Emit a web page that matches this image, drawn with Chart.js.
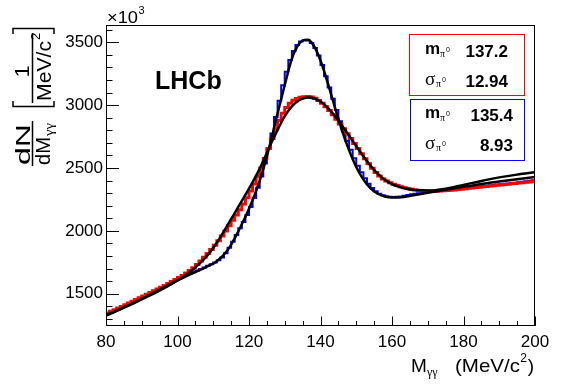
<!DOCTYPE html>
<html lang="en">
<head>
<meta charset="UTF-8" />
<title>pi0 mass peak</title>
<script src="https://cdn.jsdelivr.net/npm/chart.js"></script>
<style>
  body { margin: 0; background: #fff; }
  canvas { display: block; }
</style>
</head>
<body>
<canvas id="massChart" width="567" height="384"></canvas>
<script>
  // histogram bins: 1 MeV wide, first bin starts at 80
  const binStart = 80;
  const binWidth = 1;

  const blueCounts = [
    1347, 1359, 1371, 1384, 1396, 1409, 1422, 1435, 1448, 1462,
    1475, 1488, 1502, 1515, 1529, 1543, 1558, 1572, 1587, 1602,
    1617, 1632, 1646, 1659, 1671, 1684, 1696, 1709, 1722, 1735,
    1749, 1765, 1788, 1822, 1866, 1914, 1966, 2020, 2070, 2125,
    2190, 2262, 2342, 2432, 2535, 2650, 2775, 2905, 3035, 3158,
    3265, 3358, 3430, 3478, 3505, 3516, 3514, 3494, 3455, 3395,
    3318, 3230, 3140, 3050, 2960, 2872, 2790, 2715, 2645, 2578,
    2517, 2465, 2418, 2375, 2340, 2314, 2295, 2282, 2274, 2270,
    2269, 2270, 2273, 2278, 2284, 2290, 2295, 2299, 2302, 2305,
    2308, 2311, 2315, 2318, 2321, 2324, 2327, 2331, 2334, 2338,
    2341, 2344, 2347, 2350, 2353, 2356, 2359, 2362, 2365, 2368,
    2371, 2374, 2377, 2380, 2383, 2387, 2390, 2394, 2398, 2403
  ];

  const redCounts = [
    1347, 1360, 1373, 1386, 1399, 1412, 1426, 1439, 1453, 1467,
    1481, 1495, 1509, 1523, 1537, 1552, 1566, 1581, 1597, 1612,
    1628, 1645, 1664, 1684, 1706, 1732, 1760, 1790, 1820, 1852,
    1886, 1921, 1958, 1998, 2040, 2085, 2125, 2168, 2214, 2263,
    2316, 2373, 2434, 2500, 2575, 2655, 2735, 2810, 2878, 2935,
    2980, 3015, 3038, 3053, 3062, 3067, 3069, 3065, 3054, 3037,
    3014, 2987, 2957, 2923, 2887, 2850, 2812, 2773, 2734, 2694,
    2654, 2613, 2573, 2534, 2497, 2464, 2436, 2413, 2396, 2382,
    2370, 2360, 2351, 2343, 2336, 2330, 2325, 2321, 2318, 2316,
    2315, 2315, 2315, 2316, 2318, 2320, 2322, 2325, 2328, 2331,
    2334, 2338, 2341, 2344, 2347, 2350, 2353, 2356, 2359, 2362,
    2365, 2368, 2371, 2374, 2377, 2380, 2383, 2386, 2389, 2393
  ];

  // fitted curves (black)
  const fitMass = [
    80, 84, 88, 92, 96, 100, 104, 108, 111, 114, 117, 120, 123, 126, 128, 130, 132, 134,
    135.5, 136.5, 138, 140, 142, 144, 146, 148, 150, 152, 154, 156, 158, 160, 162, 164, 166,
    170, 175, 180, 185, 190, 195, 200
  ];
  const redFit = [
    1330, 1378, 1428, 1482, 1540, 1605, 1685, 1792, 1905, 2045, 2190, 2335, 2495, 2685, 2803, 2912, 2990, 3038,
    3056, 3060, 3054, 3028, 2980, 2914, 2838, 2757, 2674, 2593, 2518, 2455, 2406, 2372, 2350, 2335, 2326,
    2320, 2335, 2365, 2397, 2425, 2447, 2465
  ];
  const blueFit = [
    1325, 1376, 1430, 1488, 1548, 1606, 1660, 1712, 1758, 1845, 1995, 2175, 2400, 2700, 2935, 3160, 3370, 3488,
    3518, 3520, 3478, 3355, 3178, 2985, 2800, 2640, 2508, 2408, 2338, 2295, 2273, 2265, 2266, 2273, 2283,
    2302, 2326, 2350, 2373, 2393, 2411, 2428
  ];

  const xTicks = [80, 100, 120, 140, 160, 180, 200];
  const yTicks = [1500, 2000, 2500, 3000, 3500];
  const redResults = ['137.2', '12.94'];
  const blueResults = ['135.4', '8.93'];

  const SANS = '"Liberation Sans", Arial, Helvetica, sans-serif';
  const SERIF = '"Liberation Serif", "Times New Roman", serif';

  function histPoints(counts) {
    const pts = counts.map((c, i) => ({ x: binStart + i * binWidth, y: c }));
    pts.push({ x: binStart + counts.length * binWidth, y: counts[counts.length - 1] });
    return pts;
  }
  function curvePoints(ys) {
    return fitMass.map((m, i) => ({ x: m, y: ys[i] }));
  }

  // draw text stretched/squeezed to a given width
  function fitText(ctx, text, x0, width, baseline) {
    const w = ctx.measureText(text).width;
    ctx.save();
    ctx.translate(x0, baseline);
    ctx.scale(width / w, 1);
    ctx.fillText(text, 0, 0);
    ctx.restore();
  }

  function drawResult(ctx, sym, value, top, right) {
    ctx.fillStyle = '#000';
    ctx.textAlign = 'left';
    let sub = 440;
    if (sym === 'm') {
      ctx.font = 'bold 17px ' + SANS;
      ctx.fillText('m', 425, top);
    } else {
      ctx.font = '19px ' + SERIF;
      ctx.fillText('\u03c3', 425, top + 1);
      sub = 436;
    }
    ctx.font = '10px ' + SERIF;
    ctx.fillText('\u03c0', sub, top + 3);
    ctx.font = '7px ' + SANS;
    ctx.fillText('0', sub + 6, top - 2);
    ctx.font = 'bold 17px ' + SANS;
    ctx.textAlign = 'right';
    ctx.fillText(value, right, top + 3);
  }

  const decorations = {
    id: 'decorations',
    afterDraw(chart) {
      const { ctx, chartArea: a, scales: { x, y } } = chart;
      ctx.save();

      // frame
      ctx.strokeStyle = '#000';
      ctx.lineWidth = 1;
      ctx.strokeRect(a.left + 0.5, a.top + 0.5, a.right - a.left - 1, a.bottom - a.top - 1);

      // inward ticks
      ctx.beginPath();
      for (let v = 1300; v <= 3600; v += 100) {
        const py = Math.round(y.getPixelForValue(v)) + 0.5;
        const len = v % 500 === 0 ? 13 : 6.5;
        ctx.moveTo(a.left, py);
        ctx.lineTo(a.left + len, py);
      }
      for (let m = 80; m <= 200; m += 5) {
        const px = Math.round(x.getPixelForValue(m)) + 0.5;
        const len = m % 20 === 0 ? 9.5 : 5;
        ctx.moveTo(px, a.bottom);
        ctx.lineTo(px, a.bottom - len);
      }
      ctx.stroke();

      // x10^3
      ctx.fillStyle = '#000';
      ctx.textAlign = 'left';
      ctx.font = '17px ' + SANS;
      fitText(ctx, '\u00d710', 107, 31, 23);
      ctx.font = '11px ' + SANS;
      ctx.fillText('3', 138.5, 14);

      // LHCb
      ctx.font = 'bold 25px ' + SANS;
      ctx.fillText('LHCb', 155, 89);

      // x-axis title
      ctx.font = '19px ' + SANS;
      ctx.fillText('M', 411, 372);
      ctx.font = '12px ' + SERIF;
      ctx.fillText('\u03b3\u03b3', 427, 376);
      ctx.font = '19px ' + SANS;
      ctx.textAlign = 'right';
      ctx.fillText(')', 534, 372);
      ctx.font = '12px ' + SANS;
      ctx.fillText('2', 527, 362);
      ctx.textAlign = 'left';
      ctx.font = '19px ' + SANS;
      fitText(ctx, '(MeV/c', 455, 65, 372);

      // y-axis title, rotated: (u, v) -> screen (v, -u)
      ctx.save();
      ctx.rotate(-Math.PI / 2);
      ctx.textAlign = 'left';
      ctx.font = '21px ' + SANS;
      fitText(ctx, 'dN', -165, 41, 30);
      fitText(ctx, 'dM', -165, 28, 50);
      ctx.font = '13px ' + SERIF;
      fitText(ctx, '\u03b3\u03b3', -136, 13, 53);
      ctx.font = '21px ' + SANS;
      ctx.textAlign = 'center';
      ctx.fillText('1', -71.5, 29);
      ctx.textAlign = 'left';
      fitText(ctx, 'MeV/c', -101, 60, 51);
      ctx.font = '13px ' + SANS;
      ctx.fillText('2', -40, 40);
      ctx.lineWidth = 1.5;
      ctx.beginPath();
      ctx.moveTo(-166, 32.5); ctx.lineTo(-121, 32.5);
      ctx.moveTo(-103, 32.5); ctx.lineTo(-33, 32.5);
      ctx.stroke();
      ctx.restore();

      // brackets
      ctx.lineWidth = 1.5;
      ctx.beginPath();
      ctx.moveTo(13, 101); ctx.lineTo(13, 106.5); ctx.lineTo(54, 106.5); ctx.lineTo(54, 101);
      ctx.moveTo(13, 34); ctx.lineTo(13, 28.5); ctx.lineTo(54, 28.5); ctx.lineTo(54, 34);
      ctx.stroke();

      // fit result boxes
      ctx.lineWidth = 1;
      ctx.fillStyle = '#fff';
      ctx.fillRect(409.5, 34.5, 115, 61);
      ctx.strokeStyle = '#ff0000';
      ctx.strokeRect(409.5, 34.5, 115, 61);
      ctx.fillStyle = '#fff';
      ctx.fillRect(410.5, 99.5, 114, 61);
      ctx.strokeStyle = '#0000ff';
      ctx.strokeRect(410.5, 99.5, 114, 61);

      drawResult(ctx, 'm', redResults[0], 54, 508);
      drawResult(ctx, 's', redResults[1], 84, 508);
      drawResult(ctx, 'm', blueResults[0], 118, 513);
      drawResult(ctx, 's', blueResults[1], 148, 513);

      ctx.restore();
    }
  };

  // Chart.js paints dataset 0 last, so the fits go first to sit on top
  const ctx = document.getElementById('massChart').getContext('2d');
  new Chart(ctx, {
    type: 'line',
    data: {
      datasets: [
        {
          data: curvePoints(blueFit),
          borderColor: '#000',
          borderWidth: 2.5,
          cubicInterpolationMode: 'monotone',
          pointRadius: 0
        },
        {
          data: curvePoints(redFit),
          borderColor: '#000',
          borderWidth: 2.5,
          cubicInterpolationMode: 'monotone',
          pointRadius: 0
        },
        {
          data: histPoints(redCounts),
          borderColor: '#ff0000',
          borderWidth: 3,
          stepped: true,
          pointRadius: 0
        },
        {
          data: histPoints(blueCounts),
          borderColor: '#0000ff',
          borderWidth: 2,
          stepped: true,
          pointRadius: 0
        }
      ]
    },
    options: {
      responsive: false,
      animation: false,
      devicePixelRatio: 1,
      layout: { padding: { top: 25, right: 32, left: 0, bottom: 0 } },
      plugins: {
        legend: { display: false },
        tooltip: { enabled: false }
      },
      scales: {
        x: {
          type: 'linear',
          min: 80,
          max: 200,
          afterBuildTicks: (s) => { s.ticks = xTicks.map(v => ({ value: v })); },
          afterFit: (s) => { s.height = 58; },
          grid: { display: false, drawTicks: false },
          border: { display: false },
          ticks: {
            color: '#000',
            font: { family: SANS, size: 17 },
            padding: 6,
            maxRotation: 0,
            callback: (v) => String(v)
          }
        },
        y: {
          min: 1243,
          max: 3637,
          afterBuildTicks: (s) => { s.ticks = yTicks.map(v => ({ value: v })); },
          afterFit: (s) => { s.width = 106; },
          grid: { display: false, drawTicks: false },
          border: { display: false },
          ticks: {
            color: '#000',
            font: { family: SANS, size: 17 },
            padding: 3,
            callback: (v) => String(v)
          }
        }
      }
    },
    plugins: [decorations]
  });
</script>
</body>
</html>
